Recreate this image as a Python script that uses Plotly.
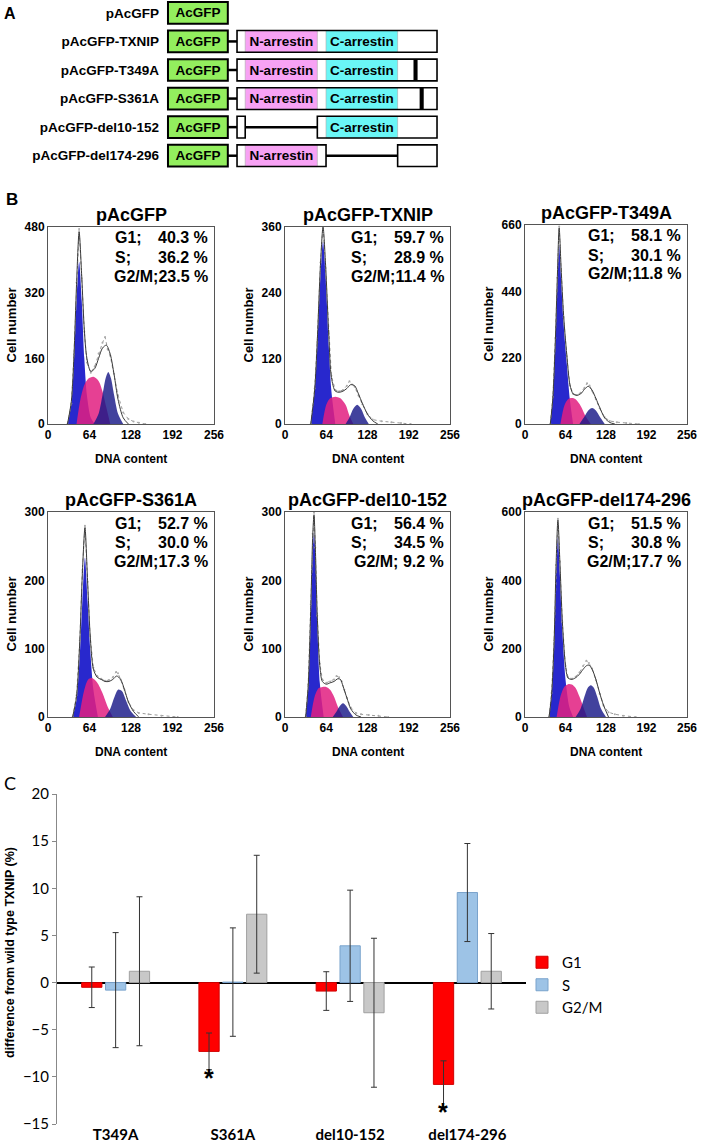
import plotly.graph_objects as go

W, H = 709, 1144
FONT = "Liberation Sans, Arial, sans-serif"
NARROW = "Lato, Liberation Sans Narrow, sans-serif"

# ---------------------------------------------------------------------------
# Panel A - construct schematics (TXNIP residue scale, AcGFP drawn upstream)
# ---------------------------------------------------------------------------
CONSTRUCTS = ["pAcGFP", "pAcGFP-TXNIP", "pAcGFP-T349A", "pAcGFP-S361A",
              "pAcGFP-del10-152", "pAcGFP-del174-296"]
ACGFP_SPAN = (-135, -18)
TXNIP_LEN = 391
N_ARRESTIN = (16, 157)
C_ARRESTIN = (174, 314)
N_ROWS = [1, 2, 3, 5]
C_ROWS = [1, 2, 3, 4]
MUT_ROWS = [2, 3]
MUT_SITES = [349, 361]
DEL_ROWS = [4, 5]
DEL_SPANS = [(16, 157), (174, 314)]

# ---------------------------------------------------------------------------
# Panel B - DNA histograms
# ---------------------------------------------------------------------------
HIST_TITLES = ["pAcGFP", "pAcGFP-TXNIP", "pAcGFP-T349A",
               "pAcGFP-S361A", "pAcGFP-del10-152", "pAcGFP-del174-296"]
HIST_YMAX = [480, 360, 660, 300, 300, 600]
G1_PCT = ["40.3 %", "59.7 %", "58.1 %", "52.7 %", "56.4 %", "51.5 %"]
S_PCT = ["36.2 %", "28.9 %", "30.1 %", "30.0 %", "34.5 %", "30.8 %"]
G2M_PCT = ["23.5 %", "11.4 %", "11.8 %", "17.3 %", " 9.2 %", "17.7 %"]

G1_DNA = [
    [30, 36, 40, 44, 48, 52, 56, 60, 66, 72],
    [40, 46, 50, 55, 59, 63, 68, 72, 78],
    [40, 44, 48, 51, 54, 57, 61, 66, 71, 76],
    [38, 44, 49, 53, 57, 61, 65, 70, 77],
    [32, 36, 40, 43, 45, 47, 50, 54, 60],
    [38, 42, 46, 49, 52, 55, 59, 64, 70, 76],
]
G1_CNT = [
    [0, 50, 150, 300, 395, 300, 160, 70, 15, 0],
    [0, 60, 140, 270, 333, 270, 140, 60, 0],
    [0, 80, 260, 450, 594, 480, 330, 200, 80, 0],
    [0, 25, 90, 170, 233, 170, 100, 40, 0],
    [0, 40, 140, 240, 270, 240, 140, 50, 0],
    [0, 60, 200, 400, 526, 420, 250, 110, 30, 0],
]
S_DNA = [
    [44, 50, 56, 62, 70, 78, 84, 90, 96],
    [58, 64, 70, 78, 86, 94, 100, 106],
    [56, 62, 68, 74, 80, 88, 96, 104],
    [48, 56, 62, 68, 76, 84, 92, 100],
    [40, 46, 52, 58, 64, 70, 76, 82, 90],
    [50, 56, 62, 68, 74, 80, 86, 92, 98],
]
S_CNT = [
    [0, 60, 95, 110, 115, 105, 80, 40, 0],
    [0, 35, 47, 50, 47, 35, 15, 0],
    [0, 60, 82, 86, 82, 60, 25, 0],
    [0, 40, 55, 57, 50, 35, 15, 0],
    [0, 30, 42, 44, 44, 40, 30, 15, 0],
    [0, 60, 88, 96, 95, 85, 60, 30, 0],
]
G2_DNA = [
    [70, 78, 84, 89, 93, 97, 102, 108, 116],
    [94, 100, 106, 112, 118, 124, 130],
    [86, 94, 100, 106, 112, 118, 126],
    [88, 96, 102, 108, 114, 120, 128, 136],
    [74, 80, 85, 90, 95, 100, 106],
    [80, 88, 94, 99, 104, 109, 114, 120, 128],
]
G2_CNT = [
    [0, 25, 70, 112, 127, 112, 70, 25, 0],
    [0, 12, 28, 35, 28, 12, 0],
    [0, 25, 45, 53, 45, 25, 0],
    [0, 12, 28, 40, 38, 25, 8, 0],
    [0, 8, 16, 20, 16, 8, 0],
    [0, 25, 60, 85, 93, 85, 60, 25, 0],
]
FIT_DNA = [
    [30, 36, 40, 44, 48, 52, 56, 60, 66, 72, 78, 84, 90, 96, 102, 108, 116, 124],
    [40, 46, 50, 55, 59, 63, 68, 72, 78, 84, 90, 96, 102, 108, 114, 120, 128, 136, 144],
    [40, 44, 48, 51, 54, 57, 61, 66, 71, 76, 82, 88, 94, 100, 106, 112, 118, 126, 134, 142],
    [38, 44, 49, 53, 57, 61, 65, 70, 76, 82, 88, 94, 100, 106, 112, 118, 124, 132, 140],
    [32, 36, 40, 43, 45, 47, 50, 54, 58, 64, 70, 76, 82, 86, 90, 96, 102, 110, 118],
    [38, 42, 46, 49, 52, 55, 59, 64, 68, 74, 80, 86, 92, 97, 101, 106, 112, 118, 124, 132],
]
FIT_CNT = [
    [0, 55, 165, 340, 468, 360, 230, 160, 128, 135, 160, 185, 192, 170, 120, 60, 15, 0],
    [0, 62, 150, 290, 360, 290, 160, 85, 60, 58, 60, 65, 72, 70, 55, 38, 18, 6, 0],
    [0, 85, 280, 480, 650, 520, 360, 230, 130, 100, 95, 100, 115, 125, 112, 85, 55, 20, 5, 0],
    [0, 30, 110, 210, 277, 200, 120, 70, 58, 55, 52, 52, 55, 60, 55, 40, 22, 8, 0],
    [0, 45, 160, 265, 296, 250, 150, 75, 52, 48, 50, 52, 56, 55, 45, 28, 12, 3, 0],
    [0, 65, 220, 440, 576, 460, 280, 150, 114, 110, 115, 125, 140, 150, 152, 140, 110, 70, 35, 0],
]
RAW_DNA = [
    [30, 36, 40, 44, 48, 52, 56, 60, 66, 72, 78, 84, 88, 92, 96, 102, 108, 116, 124, 132, 140, 150],
    [40, 46, 50, 55, 59, 63, 68, 72, 78, 84, 90, 96, 100, 104, 108, 114, 120, 128, 136, 150, 165, 180, 195],
    [40, 44, 48, 51, 54, 57, 61, 66, 71, 76, 82, 88, 94, 98, 102, 106, 112, 118, 126, 134, 145, 160, 180],
    [38, 44, 49, 53, 57, 61, 65, 70, 76, 82, 88, 94, 100, 105, 108, 112, 118, 124, 132, 140, 155, 175, 200],
    [32, 36, 40, 43, 45, 47, 50, 54, 58, 64, 70, 76, 80, 84, 88, 92, 96, 102, 110, 118, 130, 145, 160],
    [38, 42, 46, 49, 52, 55, 59, 64, 68, 74, 80, 86, 92, 97, 101, 106, 112, 118, 124, 132, 142, 155, 175],
]
RAW_CNT = [
    [0, 50, 170, 345, 475, 355, 225, 150, 125, 140, 172, 198, 212, 182, 166, 122, 70, 28, 12, 6, 3, 0],
    [0, 65, 150, 295, 365, 285, 165, 88, 62, 60, 62, 70, 78, 72, 68, 52, 36, 18, 8, 5, 3, 2, 0],
    [0, 90, 285, 485, 655, 515, 355, 225, 128, 100, 96, 104, 120, 135, 128, 110, 82, 52, 22, 10, 6, 3, 0],
    [0, 32, 112, 215, 280, 198, 118, 72, 60, 56, 53, 54, 58, 66, 64, 55, 40, 22, 10, 6, 4, 2, 0],
    [0, 48, 165, 268, 300, 248, 148, 78, 55, 50, 52, 55, 60, 58, 52, 40, 28, 14, 6, 4, 3, 2, 0],
    [0, 70, 225, 445, 580, 455, 278, 150, 116, 112, 118, 130, 150, 165, 158, 142, 108, 68, 34, 14, 8, 4, 0],
]
DNA_TICKS = [0, 64, 128, 192, 256]

# ---------------------------------------------------------------------------
# Panel C - difference from wild type TXNIP (%)
# ---------------------------------------------------------------------------
MUTANTS = ["T349A", "S361A", "del10-152", "del174-296"]
G1_DIFF = [-0.5, -7.3, -0.9, -10.8]
G1_ERR = [2.15, 1.95, 2.05, 2.5]
S_DIFF = [-0.8, 0.05, 3.9, 9.55]
S_ERR = [6.1, 5.75, 5.9, 5.2]
G2M_DIFF = [1.2, 7.25, -3.2, 1.2]
G2M_ERR = [7.9, 6.25, 7.9, 4.0]
SIGNIF = [("S361A", -10.1), ("del174-296", -13.7)]


def px(x):
    return x / W


def py(y):
    return 1 - y / H


def note(x, y, text, size, **kw):
    d = dict(x=px(x), y=py(y), xref="paper", yref="paper", text=text,
             showarrow=False, xanchor="center", yanchor="middle",
             font=dict(family=FONT, size=size, color="black"))
    d.update(kw)
    return d


fig = go.Figure()

# ----------------------------- Panel A -------------------------------------
ROW_W = 0.76
A_SIZE = 13.5
bar_a = dict(orientation="h", xaxis="x7", yaxis="y7", showlegend=False,
             hoverinfo="skip", textangle=0, constraintext="none",
             insidetextanchor="middle", textposition="inside",
             textfont=dict(family=FONT, size=A_SIZE, color="black"))
rows_all = list(range(len(CONSTRUCTS)))
fig.add_trace(go.Bar(
    y=rows_all, x=[ACGFP_SPAN[1] - ACGFP_SPAN[0]] * len(rows_all),
    base=[ACGFP_SPAN[0]] * len(rows_all), width=ROW_W, offset=-ROW_W / 2,
    marker=dict(color="#93EE5E", line=dict(color="black", width=2)),
    text=["<b>AcGFP</b>"] * len(rows_all), **bar_a))

# white TXNIP backbone pieces
box_rows, box_base, box_len = [], [], []
for r in [1, 2, 3]:
    box_rows.append(r); box_base.append(0); box_len.append(TXNIP_LEN)
for r, (a, b) in zip(DEL_ROWS, DEL_SPANS):
    box_rows += [r, r]
    box_base += [0, b]
    box_len += [a, TXNIP_LEN - b]
fig.add_trace(go.Bar(
    y=box_rows, x=box_len, base=box_base, width=ROW_W, offset=-ROW_W / 2,
    marker=dict(color="white", line=dict(width=0)), **bar_a))

for rows, span, color, label in [(N_ROWS, N_ARRESTIN, "#F7A2F4", "N-arrestin"),
                                 (C_ROWS, C_ARRESTIN, "#6AF6F6", "C-arrestin")]:
    fig.add_trace(go.Bar(
        y=rows, x=[span[1] - span[0]] * len(rows), base=[span[0]] * len(rows),
        width=ROW_W, offset=-ROW_W / 2,
        marker=dict(color=color, line=dict(color="#aaa", width=0.6)),
        text=[f"<b>{label}</b>"] * len(rows), **bar_a))

fig.add_trace(go.Bar(
    y=MUT_ROWS, x=[8] * len(MUT_ROWS), base=[s - 4 for s in MUT_SITES],
    width=ROW_W, offset=-ROW_W / 2,
    marker=dict(color="black", line=dict(width=0)), **bar_a))

# outlines drawn on top
fig.add_trace(go.Bar(
    y=box_rows, x=box_len, base=box_base, width=ROW_W, offset=-ROW_W / 2,
    marker=dict(color="rgba(0,0,0,0)", line=dict(color="black", width=1.6)), **bar_a))

# linkers and deletion lines
for r in rows_all[1:]:
    fig.add_trace(go.Scatter(x=[ACGFP_SPAN[1], 0], y=[r, r], mode="lines",
                             line=dict(color="black", width=2.5),
                             xaxis="x7", yaxis="y7", showlegend=False, hoverinfo="skip"))
for r, (a, b) in zip(DEL_ROWS, DEL_SPANS):
    fig.add_trace(go.Scatter(x=[a, b], y=[r, r], mode="lines",
                             line=dict(color="black", width=2.5),
                             xaxis="x7", yaxis="y7", showlegend=False, hoverinfo="skip"))

# ----------------------------- Panel B -------------------------------------
B_BOXES = [(48, 214, 227, 424), (285, 450, 227, 424), (525, 687, 225, 424),
           (48, 214, 512, 717), (285, 450, 512, 717), (525, 687, 512, 717)]
G1_COLOR = "rgb(40,40,205)"
S_COLOR = "rgba(226,30,128,0.85)"
G2_COLOR = "rgba(24,24,135,0.82)"

annotations = []
for i, (x0, x1, y0, y1) in enumerate(B_BOXES):
    n = "" if i == 0 else str(i + 1)
    xa, ya = "x" + n, "y" + n
    for dna, cnt, col in [(G1_DNA[i], G1_CNT[i], G1_COLOR),
                          (S_DNA[i], S_CNT[i], S_COLOR),
                          (G2_DNA[i], G2_CNT[i], G2_COLOR)]:
        fig.add_trace(go.Scatter(x=dna, y=cnt, mode="lines", fill="tozeroy",
                                 fillcolor=col, line=dict(width=0, shape="spline", smoothing=0.8),
                                 xaxis=xa, yaxis=ya, showlegend=False, hoverinfo="skip"))
    fig.add_trace(go.Scatter(x=RAW_DNA[i], y=RAW_CNT[i], mode="lines+markers",
                             line=dict(color="#9a9a9a", width=1, dash="dot"),
                             marker=dict(size=2, color="#aaa"),
                             xaxis=xa, yaxis=ya, showlegend=False, hoverinfo="skip"))
    fig.add_trace(go.Scatter(x=FIT_DNA[i], y=FIT_CNT[i], mode="lines",
                             line=dict(color="#3a3a3a", width=1, shape="spline", smoothing=0.8),
                             xaxis=xa, yaxis=ya, showlegend=False, hoverinfo="skip"))

    ymax = HIST_YMAX[i]
    axis_common = dict(showline=True, mirror=True, linecolor="#555", linewidth=1,
                       showgrid=False, zeroline=False, ticks="",
                       tickfont=dict(family=FONT, size=12, color="black", weight="bold"))
    fig.update_layout({
        "xaxis" + n: dict(domain=[px(x0), px(x1)], range=[0, 256], tickvals=DNA_TICKS,
                          anchor=ya, **axis_common),
        "yaxis" + n: dict(domain=[py(y1), py(y0)], range=[0, ymax],
                          tickvals=[0, ymax // 3, 2 * ymax // 3, ymax],
                          anchor=xa, **axis_common),
    })

    # title, stats, axis titles
    annotations.append(note((x0 + x1) / 2, y0 - 12, f"<b>{HIST_TITLES[i]}</b>", 18))
    for k, (lab, val) in enumerate([("G1;", G1_PCT[i]), ("S;", S_PCT[i])]):
        yy = y0 + 11 + 19 * k
        annotations.append(note(x1 - 101, yy, f"<b>{lab}</b>", 16, xanchor="left"))
        annotations.append(note(x1 - 4, yy, f"<b>{val}</b>", 16, xanchor="right"))
    annotations.append(note(x1 - 4, y0 + 49, f"<b>G2/M;{G2M_PCT[i]}</b>", 16, xanchor="right"))
    annotations.append(note(x0 - 37, (y0 + y1) / 2, "<b>Cell number</b>", 13, textangle=-90))
    annotations.append(note((x0 + x1) / 2, y1 + 35, "<b>DNA content</b>", 12))

# ----------------------------- Panel C -------------------------------------
for name, vals, errs, color, edge in [("G1", G1_DIFF, G1_ERR, "#FF0000", "#d00000"),
                                      ("S", S_DIFF, S_ERR, "#9DC3E6", "#7aa3cc"),
                                      ("G2/M", G2M_DIFF, G2M_ERR, "#C8C8C8", "#a0a0a0")]:
    fig.add_trace(go.Bar(
        x=MUTANTS, y=vals, name=name,
        marker=dict(color=color, line=dict(color=edge, width=1)),
        error_y=dict(type="data", array=errs, color="#333", thickness=1, width=3),
        xaxis="x8", yaxis="y8", hoverinfo="skip"))

for cat, yv in SIGNIF:
    annotations.append(dict(x=cat, y=yv, xref="x8", yref="y8", xshift=-24,
                            xanchor="center", yanchor="middle",
                            text="<b>*</b>", showarrow=False,
                            font=dict(family=FONT, size=25, color="black")))

annotations.append(note(10, 953, "<b>difference from wild type TXNIP (%)</b>", 12.5,
                        textangle=-90))

# panel letters
annotations.append(note(10, 14, "<b>A</b>", 16))
annotations.append(note(12, 200, "<b>B</b>", 17))
annotations.append(note(10, 783, "C", 18, font=dict(family=NARROW, size=18, color="black")))

fig.update_layout(
    width=W, height=H,
    margin=dict(l=0, r=0, t=0, b=0, autoexpand=False),
    paper_bgcolor="white", plot_bgcolor="white",
    font=dict(family=FONT, color="black"),
    barmode="group", bargap=0.39, bargroupgap=0.15,
    xaxis7=dict(domain=[px(160), px(445)], range=[-150.6, 406.6], visible=False, anchor="y7"),
    yaxis7=dict(domain=[py(170), py(0)], range=[5.5, -0.45], anchor="x7",
                tickvals=rows_all, ticktext=[f"<b>{c}</b>" for c in CONSTRUCTS],
                showline=False, showgrid=False, zeroline=False, ticks="",
                tickfont=dict(family=FONT, size=A_SIZE, color="black")),
    xaxis8=dict(domain=[px(57), px(526)], anchor="y8", showline=False, ticks="",
                showgrid=False, zeroline=False,
                tickfont=dict(family=NARROW, size=15, color="black", weight="bold")),
    yaxis8=dict(domain=[py(1124), py(794)], range=[-15, 20], dtick=5, anchor="x8",
                showline=True, linecolor="#888", linewidth=1, ticks="outside",
                ticklen=4, tickcolor="#888", showgrid=False,
                zeroline=True, zerolinecolor="black", zerolinewidth=2,
                tickfont=dict(family=NARROW, size=15, color="black")),
    legend=dict(x=px(522), y=py(946), xanchor="left", yanchor="top",
                font=dict(family=NARROW, size=15, color="black"),
                bgcolor="rgba(0,0,0,0)", tracegroupgap=4, itemwidth=30),
    annotations=annotations,
)
fig.update_xaxes(automargin=False)
fig.update_yaxes(automargin=False)

# the page body keeps its default 8px margin; drop it so the figure sits at 0,0
fig.write_html("out.html", config={"displayModeBar": False},
               post_script="document.body.style.margin='0';")
